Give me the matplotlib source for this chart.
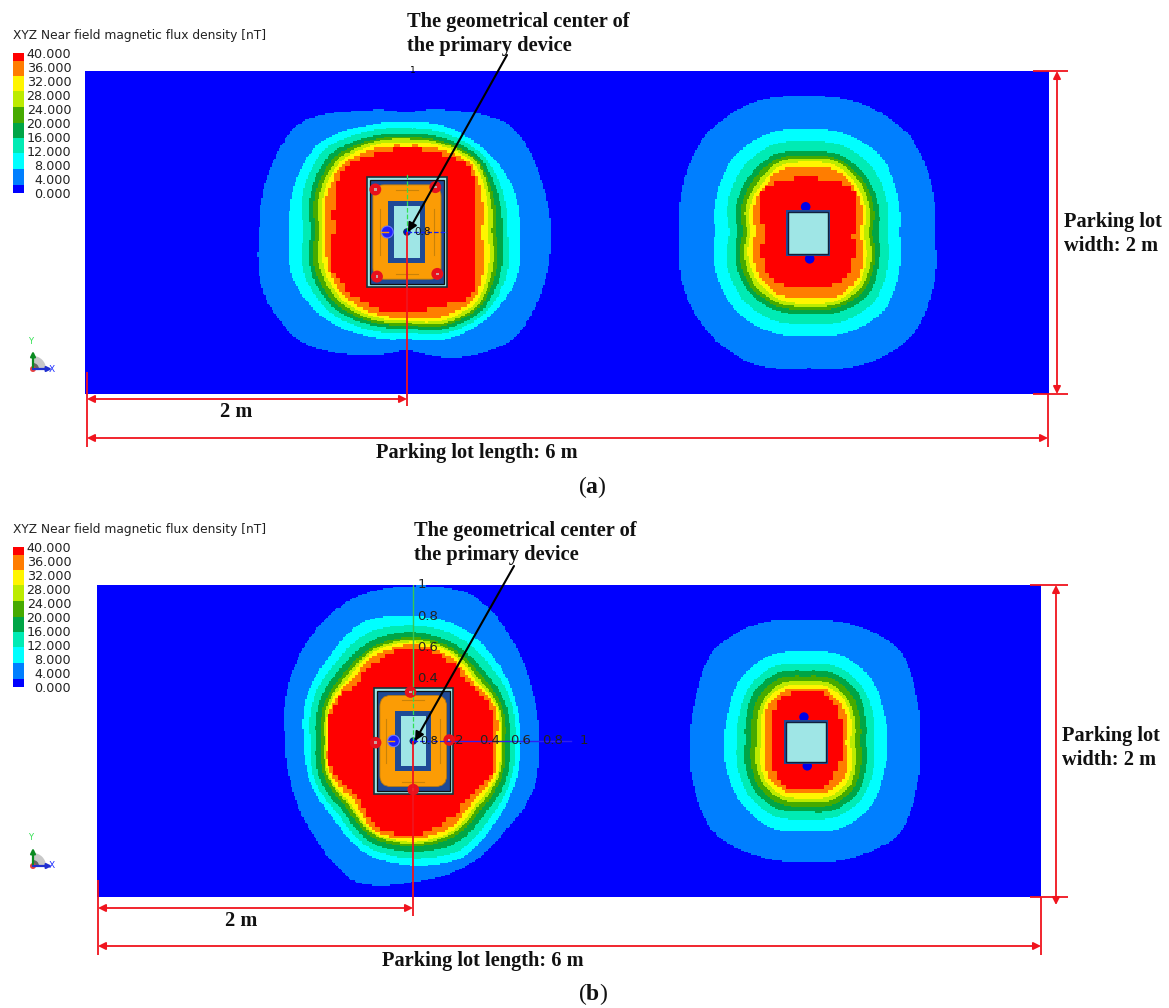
import numpy as np
import matplotlib
matplotlib.use("Agg")
import matplotlib.pyplot as plt
from matplotlib.patches import Rectangle, FancyBboxPatch, Circle, Wedge

plt.rcParams['mathtext.fontset'] = 'custom'
plt.rcParams['mathtext.rm'] = 'Liberation Serif'
plt.rcParams['mathtext.bf'] = 'Liberation Serif:bold'

W, H = 1169, 1008
LEVELS = [4, 8, 12, 16, 20, 24, 28, 32, 36]
LEGEND_TICKS = [40, 36, 32, 28, 24, 20, 16, 12, 8, 4, 0]
LEGEND_EDGES = [0, 2.3, 6.8, 11.3, 15.6, 20.1, 24.5, 29, 33.5, 37.8, 40]
BAND_COLORS = ['#0000ff', '#007fff', '#00ffff', '#00ebb4', '#00a546',
               '#46aa00', '#bceb00', '#fff500', '#ff7d00', '#ff0000']
LEGEND_TITLE = 'XYZ Near field magnetic flux density [nT]'
AXIS_TICKS = [0.2, 0.4, 0.6, 0.8, 1.0]

# contour radii by level, 16 bearings counter-clockwise from +x, unit: 1/482 m (a), 1/472 m (b)
A1 = [
 [430,433,450,390,355,389,460,450,442,470,462,395,348,405,452,440],
 [338,346,340,337,327,340,375,365,352,372,360,335,318,343,352,357],
 [300,312,325,318,307,322,350,335,307,335,335,315,298,325,337,325],
 [285,295,314,303,292,305,328,312,287,313,318,300,285,312,325,305],
 [265,280,304,292,282,295,312,298,272,300,305,290,276,302,313,290],
 [253,270,298,285,277,288,300,285,260,285,292,282,270,295,305,278],
 [240,258,290,278,267,278,290,272,250,272,282,272,263,285,296,265],
 [222,245,280,268,257,268,280,262,240,258,270,262,256,272,285,250],
 [200,225,268,255,249,250,270,235,217,250,250,245,240,235,272,225],
]
A2 = [
 [377,400,424,419,406,422,424,403,382,408,424,426,402,426,438,408],
 [273,290,318,318,308,320,318,295,277,300,318,318,307,320,325,295],
 [235,255,276,282,273,284,276,258,233,262,280,282,270,284,285,258],
 [210,228,245,253,243,255,245,232,210,235,252,252,240,255,258,230],
 [190,212,230,240,231,240,228,215,193,220,238,238,227,240,240,215],
 [180,200,218,232,223,230,212,203,180,205,225,228,217,230,228,205],
 [165,188,205,220,211,218,200,190,170,195,210,218,209,220,215,190],
 [153,178,195,205,198,205,190,178,155,180,198,205,194,208,205,180],
 [135,155,191,168,163,170,191,152,130,150,177,172,162,172,175,150],
]
B1 = [
 [375,387,425,480,468,469,438,408,382,391,415,465,425,410,385,389],
 [320,330,349,375,378,391,356,347,327,334,335,372,377,383,346,330],
 [305,318,325,345,350,355,330,325,307,320,315,352,355,360,325,315],
 [290,300,300,320,330,328,308,305,290,305,298,335,335,335,305,302],
 [275,288,285,306,315,310,290,290,275,290,283,320,320,315,288,287],
 [265,278,272,298,307,302,280,280,265,280,272,310,312,305,276,278],
 [260,272,262,292,300,295,270,273,258,275,265,305,305,298,266,272],
 [250,268,250,280,292,285,258,268,253,270,250,298,298,285,252,265],
 [240,257,240,267,285,265,240,262,247,262,233,287,287,262,232,255],
]
B2 = [
 [340,358,399,382,365,385,393,355,345,363,393,375,362,378,396,358],
 [242,252,275,285,272,283,275,250,243,255,270,283,270,283,275,252],
 [204,218,238,248,235,248,238,215,206,220,238,245,233,245,240,218],
 [179,193,218,225,215,225,218,193,181,197,215,222,210,224,220,195],
 [162,175,198,208,198,208,198,175,163,178,198,205,195,207,202,178],
 [144,158,180,192,183,192,180,158,146,162,182,190,180,192,188,160],
 [130,148,170,180,170,180,170,145,131,150,170,178,170,180,175,148],
 [117,135,155,168,158,168,158,135,116,135,155,163,155,165,160,135],
 [102,115,135,160,150,155,135,113,103,115,130,148,145,148,128,113],
]

PLATE_HALF = (0.25, 0.34)
COIL_HALF = (0.212, 0.292)
CORE_HALF = (0.115, 0.193)
WINDOW_HALF = (0.08, 0.163)
SQUARE_HALF = (0.138, 0.14)
MARK_A = [(-95, 127), (85, 134), (-90, -133), (91, -125)]
MARK_B = [(-8, 148), (108, 3), (0, -147), (-113, -5)]
NAVY = '#1f4a96'
PALE = '#9fe6e6'

fig = plt.figure(figsize=(W / 100, H / 100), dpi=100, facecolor='white')


def axes_px(x0, y0, x1, y1, **kw):
    return fig.add_axes([x0 / W, 1 - y1 / H, (x1 - x0) / W, (y1 - y0) / H], **kw)


def ring(cx, cy, radii, unit, grid):
    th = np.deg2rad(np.arange(16) * 22.5)
    dense = np.deg2rad(np.arange(0, 360, 0.75))
    r = np.interp(dense, np.r_[th, 2 * np.pi], np.r_[radii, radii[0]])
    n = 13
    k = np.ones(n) / n
    r = np.convolve(np.r_[r[-(n // 2):], r, r[:n // 2]], k, mode='valid')
    x = np.round((cx + r * unit * np.cos(dense)) / grid) * grid
    y = np.round((cy + r * unit * np.sin(dense)) / grid) * grid
    xs, ys = [], []
    for i in range(len(x)):
        xs += [x[i], x[(i + 1) % len(x)]]
        ys += [y[i], y[i]]
    return xs, ys


def blob(ax, cx, cy, table, unit):
    for i, radii in enumerate(table):
        g = 0.03 if i == 8 else (0.018 if i == 7 else 0.009)
        xs, ys = ring(cx, cy, radii, unit, g)
        ax.fill(xs, ys, color=BAND_COLORS[i + 1], lw=0, antialiased=False, zorder=2 + i * 0.01)


def primary(ax, cx, cy, marks, unit):
    def rect(half, z=4, **kw):
        ax.add_patch(Rectangle((cx - half[0], cy - half[1]), 2 * half[0], 2 * half[1], zorder=z, **kw))
    rect(PLATE_HALF, fc=PALE, ec='#17343a', lw=1.2)
    rect((PLATE_HALF[0] - 0.018, PLATE_HALF[1] - 0.018), fc=NAVY, ec='#111111', lw=0.9)
    ax.add_patch(FancyBboxPatch((cx - COIL_HALF[0] + 0.07, cy - COIL_HALF[1] + 0.07),
                                2 * COIL_HALF[0] - 0.14, 2 * COIL_HALF[1] - 0.14,
                                boxstyle='round,pad=0.07,rounding_size=0.07',
                                fc='#fb9c05', ec='#b87a10', lw=0.6, zorder=4.1))
    rect(CORE_HALF, z=4.3, fc=NAVY, ec='none')
    rect(WINDOW_HALF, z=4.4, fc=PALE, ec='none')
    for sx in (-1, 1):
        ax.plot([cx + sx * 0.17] * 2, [cy - 0.14, cy + 0.14], color='#c98208', lw=0.8, zorder=4.2)
    for sy in (-1, 1):
        ax.plot([cx - 0.07, cx + 0.07], [cy + sy * 0.26] * 2, color='#c98208', lw=0.8, zorder=4.2)
    for dx, dy in marks:
        ax.add_patch(Circle((cx + dx * unit, cy + dy * unit), 0.037, fc='#e8101c', ec='none', zorder=4.5))
        ax.add_patch(Rectangle((cx + dx * unit - 0.008, cy + dy * unit - 0.008), 0.016, 0.016,
                               fc='#c9a0a0', ec='none', zorder=4.6))
    ax.add_patch(Circle((cx - 59 * unit, cy), 0.037, fc='#2020ff', ec='#6a78ff', lw=0.8, zorder=4.5))
    ax.plot([cx - 0.16, cx - 0.12], [cy, cy], color='#ff9a00', lw=1, zorder=4.6)
    ax.add_patch(Circle((cx, cy), 0.02, fc='#0000e0', ec='#10305a', lw=0.8, zorder=5))


def secondary(ax, cx, cy, top, bottom, unit):
    for (dx, dy) in (top, bottom):
        ax.add_patch(Circle((cx + dx * unit, cy + dy * unit), 0.03, fc='#0000e8', ec='none', zorder=3.5))
    ax.add_patch(Rectangle((cx - SQUARE_HALF[0], cy - SQUARE_HALF[1]), 2 * SQUARE_HALF[0], 2 * SQUARE_HALF[1],
                           fc=NAVY, ec='none', zorder=4))
    ax.add_patch(Rectangle((cx - SQUARE_HALF[0] + 0.012, cy - SQUARE_HALF[1] + 0.012),
                           2 * SQUARE_HALF[0] - 0.024, 2 * SQUARE_HALF[1] - 0.024,
                           fc=PALE, ec='#10203a', lw=1.0, zorder=4.2))


def panel(box, c1, c2, t1, t2, unit, marks, sec_top, sec_bot):
    ax = axes_px(*box)
    ax.set_xlim(0, 6)
    ax.set_ylim(0, 2)
    ax.axis('off')
    ax.add_patch(Rectangle((0, 0), 6, 2, fc=BAND_COLORS[0], ec='none', zorder=1))
    blob(ax, c1[0], c1[1], t1, unit)
    blob(ax, c2[0], c2[1], t2, unit)
    primary(ax, c1[0], c1[1], marks, unit)
    secondary(ax, c2[0], c2[1], sec_top, sec_bot, unit)
    return ax


UA, UB = 1 / 482, 1 / 472
CA1, CA2 = (2.004, 1.003), (4.5, 0.997)
CB1, CB2 = (2.01, 1.0), (4.506, 0.995)
axa = panel((85, 71, 1049, 394), CA1, CA2, A1, A2, UA, MARK_A, (-7, 78), (5, -77))
axb = panel((97, 585, 1041, 897), CB1, CB2, B1, B2, UB, MARK_B, (-6, 75), (4, -73))

# local triad of panel a
cx, cy = CA1
axa.plot([cx, cx], [cy, cy + PLATE_HALF[1] + 0.02], color='#30e050', lw=0.9, ls='--', zorder=5)
axa.plot([cx, cx + PLATE_HALF[0]], [cy, cy], color='#1020ff', lw=0.9, ls='--', zorder=5)
axa.text(cx + 0.02, cy + 1.0, '1', fontsize=6.5, va='center', ha='left', clip_on=False, zorder=6)
axa.text(cx + 0.1, cy, '0.8', fontsize=7.5, va='center', ha='center', color='#111111', zorder=6)

# local triad of panel b
cx, cy = CB1
axb.plot([cx, cx], [cy, cy + 1.0], color='#38c850', lw=1.0, zorder=3.9)
axb.plot([cx, cx], [cy, cy + PLATE_HALF[1]], color='#30e050', lw=0.9, ls='--', zorder=5)
axb.plot([cx, cx + 1.0], [cy, cy], color='#3020f0', lw=1.0, zorder=3.9)
axb.plot([cx, cx + PLATE_HALF[0]], [cy, cy], color='#1020ff', lw=0.9, ls='--', zorder=5)
for t in AXIS_TICKS:
    lab = '1' if t == 1 else f'{t:.1f}'
    if t > 0.2:
        axb.text(cx + 0.025, cy + t, lab, fontsize=9.5, va='center', ha='left', color='#222222', clip_on=False, zorder=6)
        axb.text(cx + t + 0.085, cy, lab, fontsize=9.5, va='center', ha='center', color='#222222', clip_on=False, zorder=6)
axb.text(cx + 0.285, cy, '.2', fontsize=9.5, va='center', ha='center', color='#222222', zorder=6)
axb.text(cx + 0.1, cy, '0.8', fontsize=8, va='center', ha='center', color='#111111', zorder=6)

# legend
for y_title, y_top in ((36, 53), (530, 547)):
    lg = axes_px(13.3, y_top, 24, y_top + 139.7)
    lg.set_xlim(0, 1)
    lg.set_ylim(0, 40)
    for i, c in enumerate(BAND_COLORS):
        lg.bar(0.5, LEGEND_EDGES[i + 1] - LEGEND_EDGES[i], bottom=LEGEND_EDGES[i], width=1, color=c, lw=0)
    lg.yaxis.tick_right()
    lg.set_yticks(LEGEND_TICKS, [f'{v:.3f}' for v in LEGEND_TICKS], fontsize=9.2, color='#222222')
    lg.tick_params(axis='y', length=0, pad=34)
    for tl in lg.get_yticklabels():
        tl.set_ha('right')
    lg.set_xticks([])
    for s in lg.spines.values():
        s.set_visible(False)
    fig.text(13 / W, 1 - y_title / H, LEGEND_TITLE, fontsize=8.85, color='#222222', va='center', ha='left')

# overlay with annotations
ov = fig.add_axes([0, 0, 1, 1], zorder=20)
ov.set_xlim(0, W)
ov.set_ylim(H, 0)
ov.axis('off')
ov.patch.set_alpha(0)
RED = '#f0141e'
SERIF = 'Liberation Serif'


def dim(x0, y0, x1, y1):
    ov.annotate('', xy=(x1, y1), xytext=(x0, y0),
                arrowprops=dict(arrowstyle='<|-|>', color=RED, lw=1.3, shrinkA=0, shrinkB=0, mutation_scale=11))


def line(xs, ys, color=RED, lw=1.3):
    ov.plot(xs, ys, color=color, lw=lw, solid_capstyle='butt')


def label(x, y, s, ha='center'):
    ov.text(x, y, s, family=SERIF, fontweight='bold', fontsize=14.7, ha=ha, va='center', color='#111111')


def triad(x, y):
    ov.add_patch(Wedge((x, y), 13, 270, 360, fc='#c8c8c8', ec='none'))
    ov.add_patch(Wedge((x, y), 6, 270, 360, fc='#666666', ec='none'))
    ov.annotate('', xy=(x, y - 18), xytext=(x, y), arrowprops=dict(arrowstyle='-|>', color='#0a8a20', lw=1.6, shrinkA=0, shrinkB=0, mutation_scale=7))
    ov.annotate('', xy=(x + 19, y), xytext=(x, y), arrowprops=dict(arrowstyle='-|>', color='#2030d0', lw=1.6, shrinkA=0, shrinkB=0, mutation_scale=7))
    ov.add_patch(Circle((x, y), 3, fc='#e84040', ec='none'))
    ov.text(x + 19, y, 'X', fontsize=6.5, color='#2030ff', ha='center', va='center')
    ov.text(x - 2, y - 28, 'Y', fontsize=6, color='#30e050', ha='center', va='center')


# panel a
line([87, 87], [372, 447]); line([1048, 1048], [394, 447])
line([407, 407], [232, 406])
line([1033, 1068], [71, 71]); line([1033, 1068], [394, 394])
dim(87, 399, 407, 399); dim(87, 438, 1048, 438); dim(1057, 71, 1057, 394)
label(236, 412, '2 m'); label(477, 453, 'Parking lot length: 6 m')
label(1064, 222, 'Parking lot', 'left'); label(1064, 246, 'width: 2 m', 'left')
label(407, 22, 'The geometrical center of', 'left'); label(407, 46, 'the primary device', 'left')
ov.annotate('', xy=(408, 232), xytext=(507, 55),
            arrowprops=dict(arrowstyle='-|>', color='black', lw=1.5, shrinkA=0, shrinkB=0, mutation_scale=13))
ov.text(607, 487, r'($\mathbf{a}$)', family=SERIF, fontsize=17, ha='right', va='center', color='#111111')
triad(33, 369)

# panel b
line([98, 98], [880, 955]); line([1041, 1041], [897, 955])
line([413, 413], [741, 916])
line([1030, 1068], [585, 585]); line([1030, 1068], [897, 897])
dim(98, 908, 413, 908); dim(98, 946, 1041, 946); dim(1056, 585, 1056, 905)
label(241, 921, '2 m'); label(483, 961, 'Parking lot length: 6 m')
label(1062, 736, 'Parking lot', 'left'); label(1062, 760, 'width: 2 m', 'left')
label(414, 531, 'The geometrical center of', 'left'); label(414, 555, 'the primary device', 'left')
ov.annotate('', xy=(415, 741), xytext=(514, 566),
            arrowprops=dict(arrowstyle='-|>', color='black', lw=1.5, shrinkA=0, shrinkB=0, mutation_scale=13))
ov.text(608, 994, r'($\mathbf{b}$)', family=SERIF, fontsize=17, ha='right', va='center', color='#111111')
triad(33, 866)

fig.savefig('out.png', dpi=100)
